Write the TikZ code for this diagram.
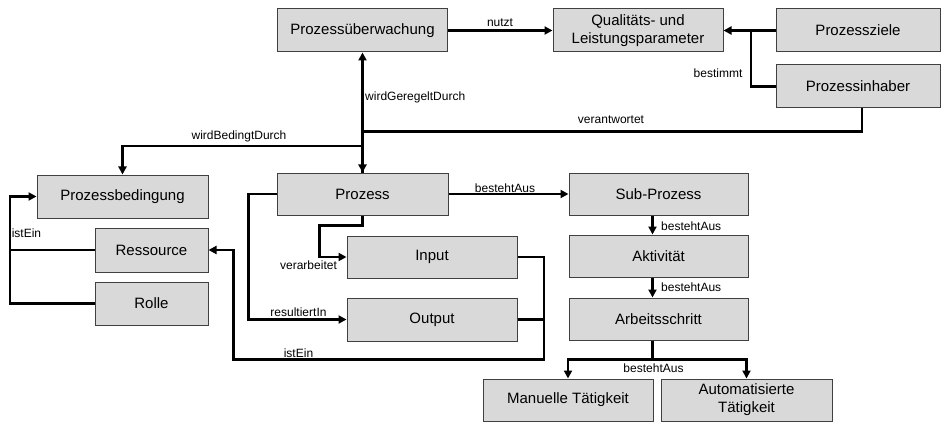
\documentclass[tikz,border=0pt]{standalone}
\usepackage{fontspec}
\setmainfont{Liberation Sans}
\usetikzlibrary{arrows.meta}
\definecolor{BoxFill}{HTML}{D9D9D9}
\definecolor{BoxLine}{HTML}{404040}

\begin{document}
\begin{tikzpicture}[x=1pt,y=-1pt,
    box/.style={draw=BoxLine, fill=BoxFill, line width=1pt, minimum height=43pt,
      inner sep=2pt, align=center, font=\fontsize{15}{18}\selectfont},
    lbl/.style={inner sep=0pt, font=\fontsize{12}{14}\selectfont},
    ln/.style={line width=2.2pt, black},
    ar/.style={ln, -{Triangle[length=8pt,width=8pt]}}]
  \useasboundingbox (0,0) rectangle (941,422);
  % Kasten
  \node[box, minimum width=170pt] (pu) at (362.5,30.5) {Prozessüberwachung};
  \node[box, minimum width=170pt] (qlp) at (638,30.5) {Qualitäts- und\\Leistungsparameter};
  \node[box, minimum width=164pt] (ziele) at (858,30.5) {Prozessziele};
  \node[box, minimum width=164pt] (inhaber) at (858,86.5) {Prozessinhaber};
  \node[box, minimum width=171pt] (bedingung) at (122.5,196.5) {Prozessbedingung};
  \node[box, minimum width=113pt, minimum height=44pt] (ressource) at (151.5,250) {Ressource};
  \node[box, minimum width=113pt] (rolle) at (151.5,303.5) {Rolle};
  \node[box, minimum width=171pt, minimum height=42pt] (prozess) at (362.5,194) {Prozess};
  \node[box, minimum width=170pt, minimum height=42pt] (input) at (432,257) {Input};
  \node[box, minimum width=170pt] (output) at (432,319.5) {Output};
  \node[box, minimum width=179pt, minimum height=42pt] (sub) at (658.5,194) {Sub-Prozess};
  \node[box, minimum width=179pt, minimum height=42pt] (akt) at (658.5,256) {Aktivität};
  \node[box, minimum width=179pt, minimum height=42pt] (schritt) at (658.5,319) {Arbeitsschritt};
  \node[box, minimum width=170pt, minimum height=42pt] (manuell) at (568,400) {Manuelle Tätigkeit};
  \node[box, minimum width=171pt, minimum height=42pt] (auto) at (746.5,400) {Automatisierte\\Tätigkeit};
  % Hilfspunkte
  \coordinate (zjoin) at (751,30.5);
  \coordinate (bsplit) at (362.5,146);
  \coordinate (lbus) at (10,0);
  \coordinate (iobus) at (544,0);
  \coordinate (tsplit) at (652.5,359.5);
  % oben
  \draw[ar] (pu.east) -- (qlp.west);
  \draw[ar] (ziele.west) -- (qlp.east);
  \draw[ln] (inhaber.west) -| (zjoin);
  \draw[ar] ([xshift=4pt]inhaber.south) -- ++(0,23) -| (prozess.north);
  \draw[ar] (prozess.north) -- (pu.south);
  \draw[ar] (bsplit) -| (bedingung.north);
  % links
  \draw[ln] (ressource.west) -- (ressource.west -| lbus);
  \draw[ar] (rolle.west) -| (lbus |- bedingung.west) -- (bedingung.west);
  % Prozess
  \draw[ar] (prozess.west) -- ++(-28,0) |- (output.west);
  \draw[ar] (prozess.south) -- ++(0,10) -- ++(-43,0) |- (input.west);
  \draw[ln] (input.east) -| (iobus |- output.east);
  \draw[ar] (output.east) -- (output.east -| iobus) -- ++(0,40)
    -| ([xshift=25pt]ressource.east) -- (ressource.east);
  % rechts
  \draw[ar] (prozess.east) -- (sub.west);
  \draw[ar] ([xshift=-6pt]sub.south) -- ([xshift=-6pt]akt.north);
  \draw[ar] ([xshift=-6pt]akt.south) -- ([xshift=-6pt]schritt.north);
  \draw[ln] ([xshift=-6pt]schritt.south) -- (tsplit);
  \draw[ar] (tsplit) -| (manuell.north);
  \draw[ar] (tsplit) -| (auto.north);
  % Beschriftungen
  \node[lbl] (t-nutzt) at (500,23) {nutzt};
  \node[lbl, anchor=west] (t-geregelt) at (365,97) {wirdGeregeltDurch};
  \node[lbl] (t-bestimmt) at (718,73) {bestimmt};
  \node[lbl] (t-verantw) at (611,120) {verantwortet};
  \node[lbl] (t-bedingt) at (239,136) {wirdBedingtDurch};
  \node[lbl] (t-istein1) at (26.5,233) {istEin};
  \node[lbl] (t-besteht1) at (505,188.5) {bestehtAus};
  \node[lbl] (t-verarb) at (308.5,265) {verarbeitet};
  \node[lbl] (t-result) at (298.5,312) {resultiertIn};
  \node[lbl] (t-istein2) at (298.5,353) {istEin};
  \node[lbl, anchor=west] (t-besteht2) at (661,226) {bestehtAus};
  \node[lbl, anchor=west] (t-besteht3) at (661,287.5) {bestehtAus};
  \node[lbl] (t-besteht4) at (653.5,368.5) {bestehtAus};
\end{tikzpicture}
\end{document}
